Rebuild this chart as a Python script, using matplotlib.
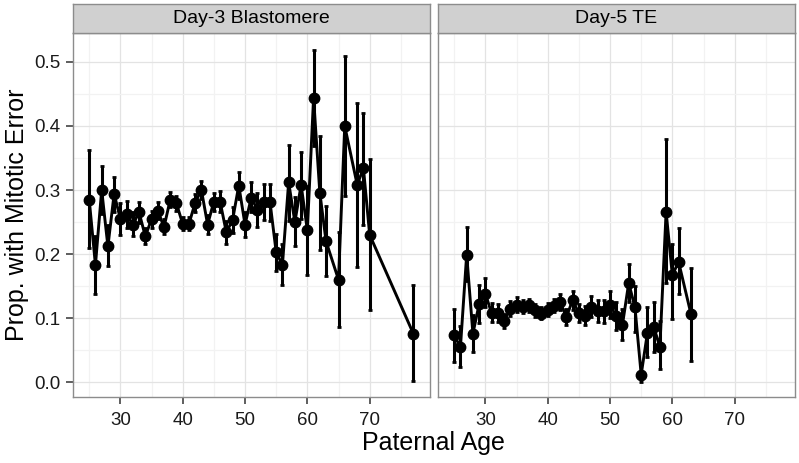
import matplotlib
matplotlib.use('Agg')
import matplotlib.pyplot as plt
from matplotlib.ticker import MultipleLocator

plt.rcParams['font.family'] = ['Liberation Sans Narrow', 'Liberation Sans', 'DejaVu Sans']

# Day-3 blastomere
ages_d3 = [25, 26, 27, 28, 29, 30, 31, 32, 33, 34, 35, 36, 37, 38, 39, 40, 41, 42, 43, 44,
           45, 46, 47, 48, 49, 50, 51, 52, 53, 54, 55, 56, 57, 58, 59, 60, 61, 62, 63,
           65, 66, 68, 69, 70, 77]
prop_d3 = [0.285, 0.183, 0.300, 0.212, 0.294, 0.255, 0.263, 0.246, 0.265, 0.228, 0.254, 0.268,
           0.242, 0.285, 0.279, 0.247, 0.247, 0.280, 0.300, 0.246, 0.282, 0.282, 0.234, 0.253,
           0.307, 0.246, 0.288, 0.269, 0.282, 0.282, 0.203, 0.183, 0.312, 0.250, 0.308, 0.237,
           0.444, 0.296, 0.220, 0.160, 0.400, 0.308, 0.334, 0.230, 0.076]
lo_d3 = [0.209, 0.137, 0.262, 0.181, 0.265, 0.230, 0.240, 0.228, 0.248, 0.216, 0.240, 0.255,
         0.231, 0.273, 0.268, 0.237, 0.237, 0.266, 0.286, 0.231, 0.268, 0.266, 0.216, 0.233,
         0.286, 0.226, 0.265, 0.243, 0.253, 0.252, 0.173, 0.151, 0.252, 0.212, 0.255, 0.168,
         0.369, 0.207, 0.166, 0.086, 0.291, 0.180, 0.246, 0.113, 0.002]
hi_d3 = [0.362, 0.229, 0.338, 0.245, 0.321, 0.280, 0.283, 0.266, 0.281, 0.241, 0.268, 0.281,
         0.254, 0.297, 0.290, 0.258, 0.258, 0.294, 0.314, 0.261, 0.296, 0.298, 0.252, 0.273,
         0.328, 0.266, 0.312, 0.295, 0.309, 0.310, 0.232, 0.215, 0.371, 0.289, 0.360, 0.306,
         0.518, 0.385, 0.275, 0.235, 0.509, 0.436, 0.420, 0.348, 0.151]

# Day-5 TE
ages_d5 = [25, 26, 27, 28, 29, 30, 31, 32, 33, 34, 35, 36, 37, 38, 39, 40, 41, 42, 43, 44,
           45, 46, 47, 48, 49, 50, 51, 52, 53, 54, 55, 56, 57, 58, 59, 60, 61, 63]
prop_d5 = [0.073, 0.055, 0.199, 0.076, 0.122, 0.138, 0.108, 0.108, 0.095, 0.115, 0.121, 0.118,
           0.120, 0.112, 0.107, 0.113, 0.119, 0.125, 0.102, 0.128, 0.108, 0.104, 0.118, 0.111,
           0.111, 0.121, 0.103, 0.090, 0.155, 0.117, 0.012, 0.077, 0.087, 0.055, 0.266, 0.167,
           0.188, 0.106]
lo_d5 = [0.032, 0.024, 0.158, 0.047, 0.092, 0.117, 0.094, 0.094, 0.084, 0.104, 0.110, 0.108,
         0.110, 0.102, 0.098, 0.103, 0.109, 0.113, 0.090, 0.113, 0.094, 0.089, 0.102, 0.094,
         0.093, 0.100, 0.082, 0.066, 0.125, 0.078, 0.000, 0.040, 0.048, 0.020, 0.155, 0.098,
         0.138, 0.033]
hi_d5 = [0.115, 0.088, 0.242, 0.105, 0.151, 0.162, 0.124, 0.122, 0.106, 0.127, 0.133, 0.128,
         0.130, 0.122, 0.117, 0.123, 0.130, 0.138, 0.115, 0.143, 0.122, 0.119, 0.134, 0.128,
         0.129, 0.142, 0.125, 0.115, 0.185, 0.150, 0.030, 0.118, 0.126, 0.095, 0.380, 0.215,
         0.240, 0.178]

panels = [('Day-3 Blastomere', ages_d3, prop_d3, lo_d3, hi_d3),
          ('Day-5 TE', ages_d5, prop_d5, lo_d5, hi_d5)]

fig = plt.figure(figsize=(7.99, 4.63), dpi=100)

W, H = 799, 463
panel_w = 356.5
top, bottom = 33, 397
lefts = [73, 438]

for i, (title, ages, prop, lo, hi) in enumerate(panels):
    ax = fig.add_axes([lefts[i] / W, (H - bottom) / H, panel_w / W, (bottom - top) / H])
    yerr = [[p - l for p, l in zip(prop, lo)], [h - p for p, h in zip(prop, hi)]]
    ax.errorbar(ages, prop, yerr=yerr, fmt='-o', color='black', lw=2.1,
                elinewidth=2.2, capsize=1.3, capthick=2.0, markersize=7.5, zorder=3)
    ax.set_xlim(22.4, 79.6)
    ax.set_ylim(-0.023, 0.545)
    ax.xaxis.set_major_locator(MultipleLocator(10))
    ax.xaxis.set_minor_locator(MultipleLocator(5))
    ax.yaxis.set_major_locator(MultipleLocator(0.1))
    ax.yaxis.set_minor_locator(MultipleLocator(0.05))
    ax.grid(which='major', color='#E3E3E3', lw=0.9, zorder=0)
    ax.grid(which='minor', color='#F2F2F2', lw=0.9, zorder=0)
    ax.set_axisbelow(True)
    for s in ax.spines.values():
        s.set_color('#8C8C8C')
        s.set_linewidth(1.0)
    ax.tick_params(which='minor', length=0)
    ax.tick_params(which='major', length=5, width=1.1, color='#333333',
                   labelsize=13.5, labelcolor='#1a1a1a', pad=4)
    ax.tick_params(axis='x', pad=6)
    ax.set_xticks([30, 40, 50, 60, 70])
    if i == 0:
        ax.set_yticks([0.0, 0.1, 0.2, 0.3, 0.4, 0.5])
        ax.set_yticklabels(['0.0', '0.1', '0.2', '0.3', '0.4', '0.5'])
    else:
        ax.tick_params(axis='y', left=False, labelleft=False)

    # facet strip
    sax = fig.add_axes([lefts[i] / W, (H - top) / H, panel_w / W, 29 / H])
    sax.set_facecolor('#D0D0D0')
    sax.set_xticks([])
    sax.set_yticks([])
    for s in sax.spines.values():
        s.set_color('#8C8C8C')
        s.set_linewidth(1.0)
    sax.text(0.5, 0.5, title, ha='center', va='center', fontsize=14, color='black',
             transform=sax.transAxes)

fig.text((73 + 794.5) / 2 / W, 1 - 443 / H, 'Paternal Age', ha='center', va='center',
         fontsize=18)
fig.text(17 / W, 1 - 215 / H, 'Prop. with Mitotic Error', ha='center', va='center',
         rotation=90, fontsize=18)

fig.savefig('out.png', dpi=100)
